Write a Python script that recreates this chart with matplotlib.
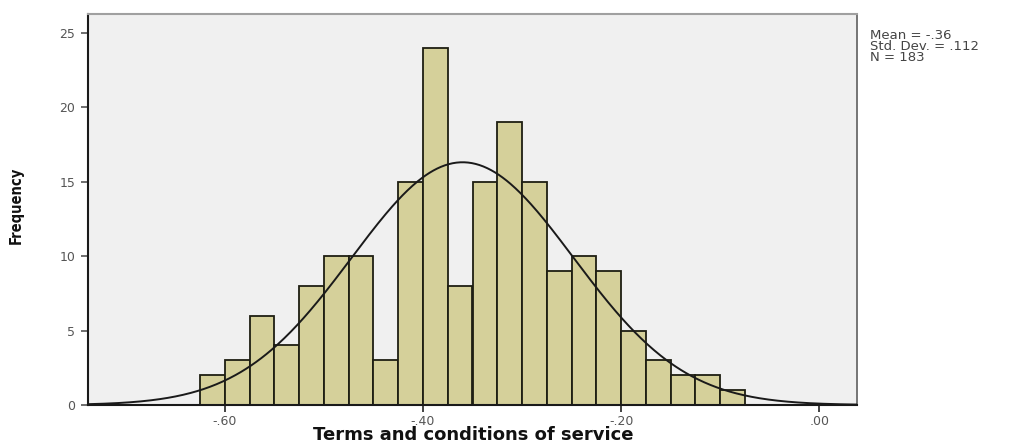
import numpy as np
import matplotlib
matplotlib.use("Agg")
import matplotlib.pyplot as plt

# ---- data ----
bin_start = -0.625
bin_width = 0.025
counts = [2, 3, 6, 4, 8, 10, 10, 3, 15, 24, 8, 15, 19, 15, 9, 10, 9, 5, 3, 2, 2, 1]
mean_val = -0.36
sd_val = 0.112
n_val = 183
x_ticks = [-0.60, -0.40, -0.20, 0.00]
x_tick_labels = ["-.60", "-.40", "-.20", ".00"]
y_ticks = [0, 5, 10, 15, 20, 25]
y_tick_labels = ["0", "5", "10", "15", "20", "25"]
x_label = "Terms and conditions of service"
y_label = "Frequency"
stats_text = "Mean = -.36\nStd. Dev. = .112\nN = 183"

fig = plt.figure(figsize=(10.12, 4.46), dpi=100)
fig.patch.set_facecolor("white")
ax = fig.add_axes([88 / 1012, 41 / 446, (857 - 88) / 1012, (405 - 14) / 446])
ax.set_facecolor("#F0F0F0")

edges = bin_start + bin_width * np.arange(len(counts))
ax.bar(edges, counts, width=bin_width, align="edge", color="#D5D09A",
       edgecolor="#1E1E12", linewidth=1.3, zorder=2)

xlim = (-0.738, 0.038)
xs = np.linspace(xlim[0], xlim[1], 600)
pdf = n_val * bin_width / (sd_val * np.sqrt(2 * np.pi)) * np.exp(-0.5 * ((xs - mean_val) / sd_val) ** 2)
ax.plot(xs, pdf, color="#1A1A1A", linewidth=1.4, zorder=3)

ax.set_xlim(*xlim)
ax.set_ylim(0, 26.25)
ax.set_xticks(x_ticks)
ax.set_xticklabels(x_tick_labels)
ax.set_yticks(y_ticks)
ax.set_yticklabels(y_tick_labels)
ax.tick_params(axis="x", direction="out", length=5, width=1.2, color="#222222",
               labelsize=9, labelcolor="#555555", pad=2)
ax.tick_params(axis="y", direction="out", length=5, width=1.2, color="#555555",
               labelsize=9, labelcolor="#555555", pad=4)

for s in ["left", "bottom"]:
    ax.spines[s].set_color("#1A1A1A")
    ax.spines[s].set_linewidth(1.5)
ax.spines["top"].set_color("#A0A0A0")
ax.spines["top"].set_linewidth(1.5)
ax.spines["right"].set_color("#6A6A6A")
ax.spines["right"].set_linewidth(1.3)

fig.text(473 / 1012, 1 - 435 / 446, x_label, fontsize=13, fontweight="bold",
         color="#111111", ha="center", va="center")
fig.text(16 / 1012, 1 - 205 / 446, y_label, fontsize=10.5, fontweight="bold",
         fontstretch="condensed", color="#111111", ha="center", va="center",
         rotation=90, family="DejaVu Sans")

fig.text(870 / 1012, 1 - 29 / 446, stats_text, fontsize=9.5, color="#444444",
         va="top", ha="left", linespacing=0.8)

fig.savefig("out.png", dpi=100, facecolor="white")
